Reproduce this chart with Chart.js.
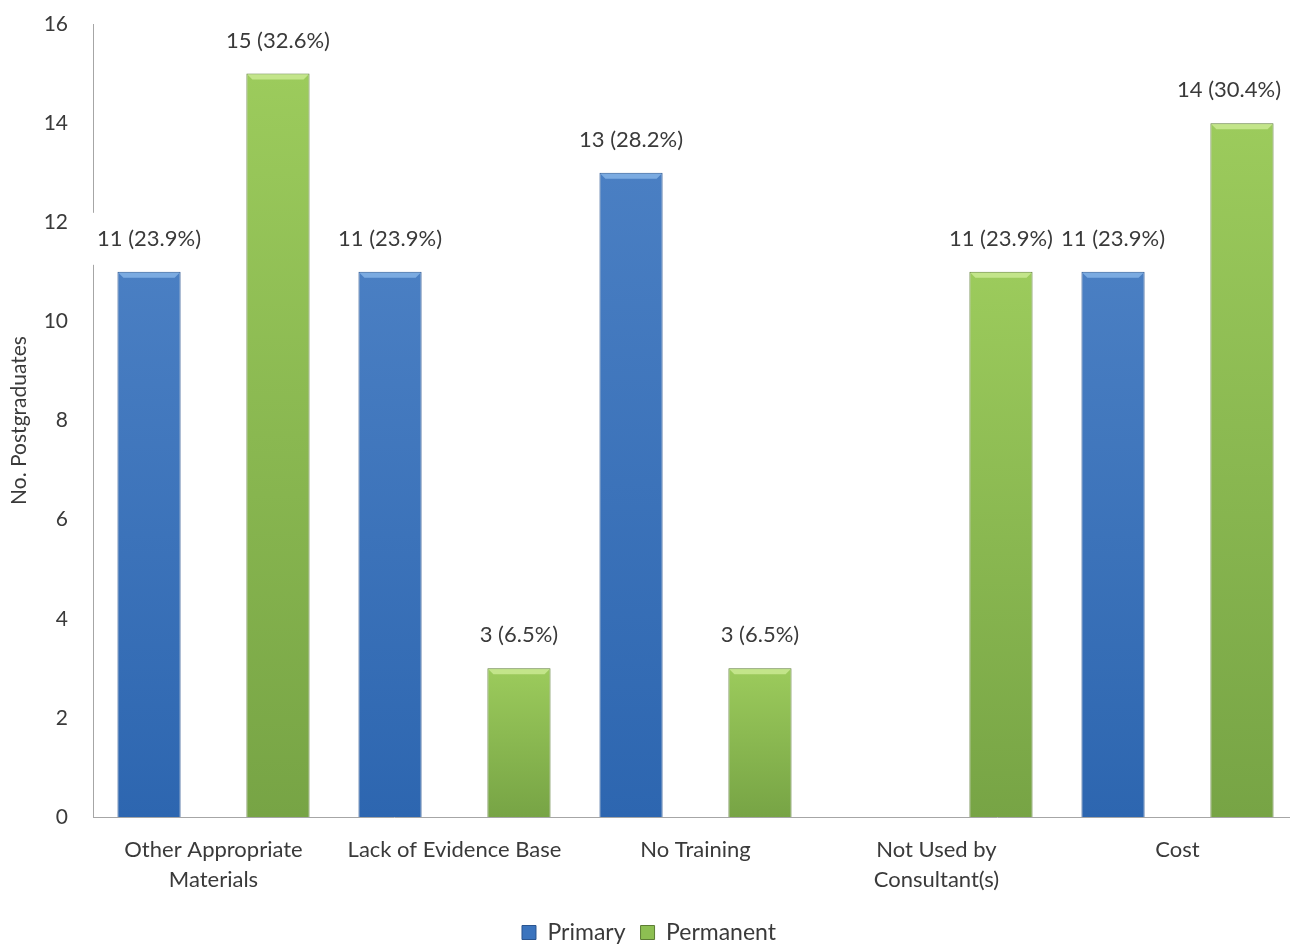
<!DOCTYPE html>
<html>
<head>
<meta charset="utf-8">
<script src="https://cdn.jsdelivr.net/npm/chart.js@4"></script>
<style>
  html, body { margin: 0; padding: 0; background: #fff; overflow: hidden; }
  #wrap { position: relative; width: 1298px; height: 945px; }
</style>
</head>
<body>
<div id="wrap"><canvas id="c"></canvas></div>
<script>
const categories = [
  ["Other Appropriate", "Materials"],
  "Lack of Evidence Base",
  "No Training",
  ["Not Used by", "Consultant(s)"],
  "Cost"
];
const primaryValues = [11, 11, 13, null, 11];
const permanentValues = [15, 3, 3, 11, 14];
const primaryPct = ["23.9%", "23.9%", "28.2%", null, "23.9%"];
const permanentPct = ["32.6%", "6.5%", "6.5%", "23.9%", "30.4%"];
const yTicks = [0, 2, 4, 6, 8, 10, 12, 14, 16];

const FONT = "Lato, 'Open Sans', sans-serif";
const TXT = "#3a3a3a";

function barGradient(top, bottom) {
  return function (ctx) {
    const chart = ctx.chart;
    const y = chart.scales.y;
    if (!y || ctx.raw == null || ctx.type !== 'data') return bottom;
    const y1 = y.getPixelForValue(ctx.raw);
    const y0 = y.getPixelForValue(0);
    if (!isFinite(y1) || !isFinite(y0) || y0 === y1) return bottom;
    const g = chart.ctx.createLinearGradient(0, y1, 0, y0);
    g.addColorStop(0, top);
    g.addColorStop(1, bottom);
    return g;
  };
}

const pctLists = [primaryPct, permanentPct];

const labelPlugin = {
  id: 'valueLabels',
  afterDatasetsDraw(chart) {
    const ctx = chart.ctx;
    const items = [];
    const maxRight = 1281;
    chart.data.datasets.forEach((ds, di) => {
      const meta = chart.getDatasetMeta(di);
      meta.data.forEach((el, i) => {
        const v = ds.data[i];
        if (v == null) return;
        const w = el.width, x0 = el.x - w / 2, yTop = el.y;
        ctx.save();
        ctx.fillStyle = di === 0 ? 'rgba(140,185,235,0.75)' : 'rgba(205,235,150,0.8)';
        ctx.beginPath();
        ctx.moveTo(x0 + 1, yTop + 1);
        ctx.lineTo(x0 + w - 1, yTop + 1);
        ctx.lineTo(x0 + w - 6, yTop + 6);
        ctx.lineTo(x0 + 6, yTop + 6);
        ctx.closePath();
        ctx.fill();
        ctx.restore();
        items.push({ x: el.x, y: el.y - 33, text: v + " (" + pctLists[di][i] + ")" });
      });
    });
    ctx.save();
    ctx.font = "22px " + FONT;
    items.forEach(it => {
      const tw = ctx.measureText(it.text).width;
      it.tw = tw;
      if (it.x + tw / 2 > maxRight) it.x = maxRight - tw / 2;
    });
    items.forEach(it => {
      ctx.fillStyle = "#ffffff";
      ctx.fillRect(it.x - it.tw / 2 - 8, it.y - 26, it.tw + 16, 52);
    });
    ctx.fillStyle = TXT;
    ctx.textAlign = "center";
    ctx.textBaseline = "middle";
    items.forEach(it => ctx.fillText(it.text, it.x, it.y));
    ctx.restore();
  }
};

new Chart(document.getElementById('c'), {
  type: 'bar',
  data: {
    labels: categories,
    datasets: [
      {
        label: 'Primary',
        data: primaryValues,
        backgroundColor: barGradient('#4a7fc3', '#2d66b0'),
        borderColor: '#2a5590',
        borderWidth: 1,
        categoryPercentage: 1.07,
        barPercentage: 0.49
      },
      {
        label: 'Permanent',
        data: permanentValues,
        backgroundColor: barGradient('#9ccb5c', '#77a445'),
        borderColor: '#5d7d35',
        borderWidth: 1,
        categoryPercentage: 1.07,
        barPercentage: 0.49
      }
    ]
  },
  options: {
    responsive: true,
    maintainAspectRatio: false,
    animation: false,
    layout: { padding: { top: 24, left: 0, right: 0, bottom: -9 } },
    plugins: {
      tooltip: { enabled: false },
      legend: {
        position: 'bottom',
        labels: {
          font: { family: FONT, size: 23 },
          color: TXT,
          boxWidth: 14,
          boxHeight: 14,
          padding: 15,
          generateLabels(chart) {
            const cols = [['#3b74be', '#2a5590'], ['#8dbf52', '#5d7d35']];
            return chart.data.datasets.map((ds, i) => ({
              text: ds.label,
              fillStyle: cols[i][0],
              strokeStyle: cols[i][1],
              lineWidth: 1,
              fontColor: TXT,
              datasetIndex: i,
              hidden: false
            }));
          }
        }
      }
    },
    scales: {
      x: {
        afterFit(scale) { scale.height = 89; },
        grid: { display: false },
        border: { display: true, color: '#a6a6a6', width: 1 },
        ticks: { font: { family: FONT, size: 22, lineHeight: 1.36 }, color: TXT, padding: 10, maxRotation: 0, autoSkip: false }
      },
      y: {
        min: 0,
        max: 16,
        afterBuildTicks(scale) { scale.ticks = yTicks.map(v => ({ value: v })); },
        afterFit(scale) { scale.width = 93; scale.paddingTop = 0; scale.paddingBottom = 0; },
        grid: { display: false },
        border: { display: true, color: '#a6a6a6', width: 1 },
        ticks: { font: { family: FONT, size: 21 }, color: TXT, padding: 17 },
        title: {
          display: true,
          text: 'No. Postgraduates',
          font: { family: FONT, size: 21 },
          color: TXT,
          padding: { top: 7, bottom: 0 }
        }
      }
    }
  },
  plugins: [labelPlugin]
});
</script>
</body>
</html>
